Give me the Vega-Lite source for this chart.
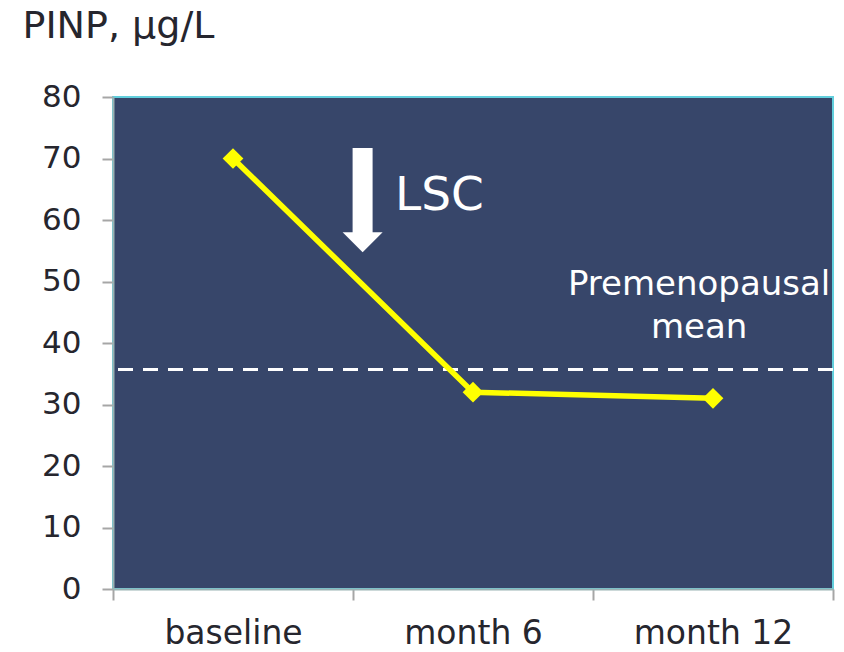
{
  "$schema": "https://vega.github.io/schema/vega-lite/v6.json",
  "width": 720,
  "height": 492,
  "autosize": {"type": "none"},
  "padding": {"left": 113, "top": 97, "right": 11, "bottom": 63},
  "background": "#FFFFFF",
  "config": {
    "font": "DejaVu Sans",
    "view": {"fill": "#37466A", "stroke": "#62CFDD", "strokeWidth": 2},
    "axis": {
      "grid": false,
      "domainColor": "#9AB3B3",
      "domainWidth": 2,
      "tickColor": "#A6A6A6",
      "tickWidth": 2,
      "tickSize": 11,
      "labelFont": "DejaVu Sans",
      "labelColor": "#26262E",
      "titleFont": "DejaVu Sans",
      "titleColor": "#26262E",
      "titleFontWeight": "normal"
    }
  },
  "datasets": {
    "pinp": [
      {"visit": "baseline", "value": 70},
      {"visit": "month 6", "value": 32},
      {"visit": "month 12", "value": 31}
    ],
    "reference": [{"label": "Premenopausal mean", "value": 35.7}],
    "lscArrow": [{"pos": 1.04, "top": 71.7, "bottom": 57.6, "head": 56.4}],
    "notes": [
      {"pos": 1.175, "value": 61.6, "text": "LSC", "kind": "lsc"},
      {"pos": 2.442, "value": 47.8, "text": "Premenopausal", "kind": "ref"},
      {"pos": 2.442, "value": 40.8, "text": "mean", "kind": "ref"}
    ]
  },
  "layer": [
    {
      "data": {"name": "reference"},
      "mark": {"type": "rule", "color": "#FFFFFF", "strokeWidth": 3, "strokeDash": [15, 10]},
      "encoding": {
        "y": {"field": "value", "type": "quantitative", "scale": {"domain": [0, 80], "nice": false}}
      }
    },
    {
      "data": {"name": "pinp"},
      "mark": {
        "type": "line",
        "color": "#FFFF00",
        "strokeWidth": 5.5,
        "point": {"shape": "diamond", "size": 430, "filled": true, "color": "#FFFF00"}
      },
      "encoding": {
        "x": {
          "field": "visit",
          "type": "nominal",
          "sort": ["baseline", "month 6", "month 12"],
          "scale": {"paddingInner": 0, "paddingOuter": 0},
          "axis": {
            "title": null,
            "labelAngle": 0,
            "labelFontSize": 33,
            "labelPadding": 17,
            "tickBand": "extent"
          }
        },
        "y": {
          "field": "value",
          "type": "quantitative",
          "scale": {"domain": [0, 80], "nice": false},
          "axis": {
            "values": [0, 10, 20, 30, 40, 50, 60, 70, 80],
            "labelFontSize": 31,
            "labelPadding": 21,
            "title": "PINP, μg/L",
            "titleFontSize": 38,
            "titleAngle": 0,
            "titleAlign": "left",
            "titleBaseline": "alphabetic",
            "titleX": -91,
            "titleY": -60
          }
        }
      }
    },
    {
      "data": {"name": "lscArrow"},
      "mark": {"type": "rule", "color": "#FFFFFF", "strokeWidth": 20, "strokeCap": "butt"},
      "encoding": {
        "x": {"field": "pos", "type": "quantitative", "scale": {"domain": [0, 3], "nice": false}, "axis": null},
        "y": {"field": "top", "type": "quantitative"},
        "y2": {"field": "bottom"}
      }
    },
    {
      "data": {"name": "lscArrow"},
      "mark": {"type": "point", "shape": "M-1,-0.5L1,-0.5L0,0.5Z", "size": 1600, "filled": true, "color": "#FFFFFF", "opacity": 1},
      "encoding": {
        "x": {"field": "pos", "type": "quantitative", "scale": {"domain": [0, 3], "nice": false}, "axis": null},
        "y": {"field": "head", "type": "quantitative"}
      }
    },
    {
      "data": {"name": "notes"},
      "transform": [{"filter": "datum.kind === 'lsc'"}],
      "mark": {"type": "text", "color": "#FFFFFF", "fontSize": 47, "align": "left", "baseline": "alphabetic"},
      "encoding": {
        "x": {"field": "pos", "type": "quantitative", "scale": {"domain": [0, 3], "nice": false}, "axis": null},
        "y": {"field": "value", "type": "quantitative"},
        "text": {"field": "text"}
      }
    },
    {
      "data": {"name": "notes"},
      "transform": [{"filter": "datum.kind === 'ref'"}],
      "mark": {"type": "text", "color": "#FFFFFF", "fontSize": 34, "align": "center", "baseline": "alphabetic"},
      "encoding": {
        "x": {"field": "pos", "type": "quantitative", "scale": {"domain": [0, 3], "nice": false}, "axis": null},
        "y": {"field": "value", "type": "quantitative"},
        "text": {"field": "text"}
      }
    }
  ],
  "resolve": {"scale": {"x": "independent"}}
}
